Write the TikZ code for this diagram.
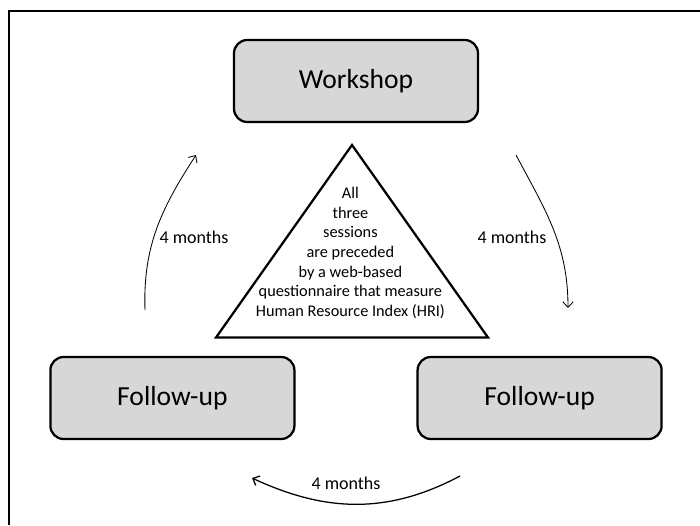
\documentclass[tikz,border=0pt]{standalone}
\usepackage{fontspec}
\setmainfont{Carlito}
\usepackage{tikz}
\usetikzlibrary{arrows.meta}
\definecolor{boxgray}{RGB}{215,215,215}
\tikzset{
  session/.style={draw=black, line width=1.6pt, fill=boxgray, rounded corners=0.33cm,
    minimum width=6.1cm, minimum height=2.05cm, font=\fontsize{19.6}{24}\selectfont},
  gap/.style={-{Straight Barb[length=1.4mm,width=2.6mm]}, line width=0.6pt},
  months/.style={font=\fontsize{12.8}{15}\selectfont}
}

\begin{document}
\begin{tikzpicture}
\useasboundingbox (0,0) rectangle (17.5,13.125);
% frame
\draw[line width=1pt] (0.225,0)--(0.225,12.85)--(17.5,12.85);
% sessions
\node[session] (workshop) at (8.9,11.1) {Workshop};
\node[session] (followA) at (13.49,3.175) {Follow-up};
\node[session] (followB) at (4.31,3.175) {Follow-up};
% triangle in the middle
\coordinate (apex) at (8.8,9.5);
\coordinate (baseL) at (5.4,4.6875);
\coordinate (baseR) at (12.2,4.6875);
\draw[line width=1.6pt, line join=miter] (apex)--(baseL)--(baseR)--cycle;
\node[align=center, font=\fontsize{11.6}{13.9}\selectfont] (note) at (8.76,6.8)
  {All\\three\\sessions\\are preceded\\by a web-based\\questionnaire that measure\\Human Resource Index (HRI)};
% arcs
\coordinate (wA) at (12.9,9.25);  \coordinate (wB) at (14.2,5.425);
\coordinate (fA) at (11.5,1.225); \coordinate (fB) at (6.3,1.175);
\coordinate (bA) at (3.625,5.375); \coordinate (bB) at (4.9,9.25);
\draw[gap] (wA) to[out=-62, in=90] (wB);
\draw[gap, line width=0.9pt] (fA) to[out=208, in=-25] (fB);
\draw[gap] (bA) to[out=92, in=237] (bB);
\node[months] (m1) at (12.8,7.2) {4 months};
\node[months] (m2) at (8.65,1.05) {4 months};
\node[months] (m3) at (4.85,7.2) {4 months};
\end{tikzpicture}
\end{document}
